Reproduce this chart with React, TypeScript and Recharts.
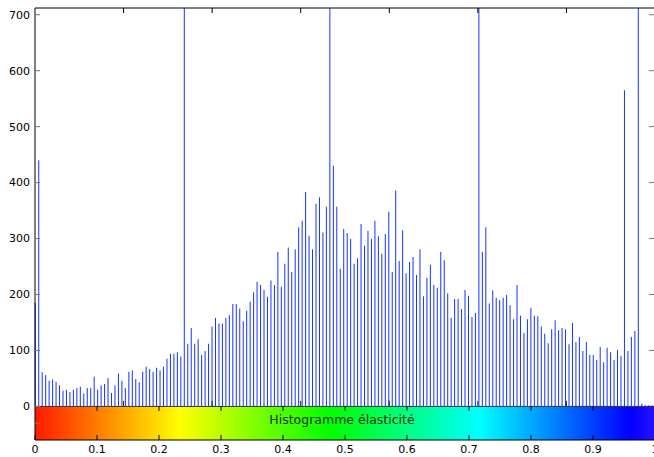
import React from 'react';
import { ComposedChart, Bar, XAxis, YAxis, ReferenceArea, ReferenceLine } from 'recharts';

// histogram counts, one per bin, read left to right (spikes are clipped at the top)
const counts = [
  185, 440, 61, 56, 46, 48, 44, 38, 28, 30,
  26, 30, 33, 35, 23, 33, 33, 53, 30, 38,
  40, 51, 24, 38, 59, 46, 33, 62, 64, 49,
  43, 62, 71, 67, 62, 69, 64, 71, 85, 94,
  94, 97, 89, 800, 112, 140, 112, 120, 92, 99,
  112, 143, 158, 148, 148, 158, 163, 183, 183, 175,
  152, 171, 187, 204, 223, 217, 208, 196, 225, 217,
  276, 214, 255, 284, 240, 281, 320, 332, 383, 305,
  281, 362, 374, 311, 357, 800, 430, 357, 246, 317,
  310, 299, 255, 265, 326, 287, 314, 299, 332, 304,
  273, 308, 348, 240, 386, 260, 315, 238, 258, 267,
  235, 281, 197, 230, 253, 217, 212, 276, 261, 202,
  158, 192, 192, 174, 208, 198, 160, 167, 800, 276,
  320, 184, 207, 194, 190, 194, 199, 181, 156, 217,
  162, 131, 156, 176, 162, 161, 143, 130, 113, 138,
  154, 136, 140, 138, 111, 149, 115, 124, 99, 115,
  92, 92, 83, 106, 79, 105, 97, 83, 101, 90,
  565, 99, 124, 135, 800, 5, 2, 2, 2,
];
const binStart = 0.0008;
const binStep = 0.00559;

const xTicks = [0, 0.1, 0.2, 0.3, 0.4, 0.5, 0.6, 0.7, 0.8, 0.9, 1];
const innerTicks = [0.1, 0.2, 0.3, 0.4, 0.5, 0.6, 0.7, 0.8, 0.9];
const topTicks = [1 / 7, 2 / 7, 3 / 7, 4 / 7, 5 / 7, 6 / 7];
const yTicks = [-30, 0, 100, 200, 300, 400, 500, 600, 700];
const rightTicks = [100, 200, 300, 400, 500, 600, 700];
const barTitle = 'Histogramme élasticité';

const data = counts.map((count, i) => ({ x: binStart + i * binStep, count }));

const tickFont = { fontSize: 11, fill: '#000', fontFamily: 'DejaVu Sans' };

export default function App() {
  return (
    <div style={{ position: 'fixed', left: 0, top: 0, width: 654, height: 457, overflow: 'hidden', background: '#fff' }}>
      <ComposedChart width={700} height={457} data={data} margin={{ top: 0, right: 0, bottom: 0, left: 0 }}>
        <defs>
          <linearGradient id="cbar" x1="0" y1="0" x2="1" y2="0">
            <stop offset="0%" stopColor="#ff1a00" />
            <stop offset="23.4%" stopColor="#ffff00" />
            <stop offset="47.6%" stopColor="#00ff00" />
            <stop offset="71.8%" stopColor="#00ffff" />
            <stop offset="96%" stopColor="#0000ff" />
            <stop offset="100%" stopColor="#2a10ff" />
          </linearGradient>
        </defs>
        <XAxis
          xAxisId="bottom"
          dataKey="x"
          type="number"
          domain={[0, 1]}
          ticks={xTicks}
          interval={0}
          height={17}
          tickSize={-5}
          tickMargin={10}
          tick={tickFont}
          axisLine={{ stroke: '#000' }}
          tickLine={{ stroke: '#000' }}
        />
        <XAxis
          xAxisId="top"
          orientation="top"
          type="number"
          domain={[0, 1]}
          height={8}
          tick={false}
          tickLine={false}
          axisLine={{ stroke: '#000' }}
        />
        <YAxis
          yAxisId="left"
          type="number"
          domain={[-60, 712]}
          allowDataOverflow
          ticks={yTicks}
          interval={0}
          width={35}
          tickSize={-5}
          tickMargin={10}
          tick={tickFont}
          tickFormatter={(v: number) => (v < 0 ? '' : String(v))}
          axisLine={{ stroke: '#000' }}
          tickLine={{ stroke: '#777' }}
        />
        <YAxis
          yAxisId="right"
          orientation="right"
          type="number"
          domain={[-60, 712]}
          allowDataOverflow
          ticks={rightTicks}
          interval={0}
          width={45}
          tickSize={-6}
          tickFormatter={() => ''}
          axisLine={false}
          tickLine={{ stroke: '#777' }}
        />
        <ReferenceArea
          xAxisId="bottom"
          yAxisId="left"
          x1={0}
          x2={1}
          y1={-60}
          y2={0}
          fill="url(#cbar)"
          fillOpacity={1}
          stroke="none"
          label={{
            content: (props: any) => {
              const vb = props.viewBox || {};
              return (
                <text x={345 - 3} y={(vb.y ?? 406) + 18} textAnchor="middle" fontSize={12.5} fontFamily="DejaVu Sans" fill="#123412">
                  {barTitle}
                </text>
              );
            },
          }}
        />
        <Bar xAxisId="bottom" yAxisId="left" dataKey="count" barSize={1} fill="#1434ff" isAnimationActive={false} />
        <ReferenceLine xAxisId="bottom" yAxisId="left" y={0} stroke="#333" />
        {innerTicks.map((t) => (
          <ReferenceLine
            key={'c' + t}
            xAxisId="bottom"
            yAxisId="left"
            segment={[{ x: t, y: 0 }, { x: t, y: -8 }]}
            stroke="#000"
          />
        ))}
        {topTicks.map((t) => (
          <ReferenceLine
            key={'s' + t}
            xAxisId="bottom"
            yAxisId="left"
            segment={[{ x: t, y: 0 }, { x: t, y: 10 }]}
            stroke="#222"
          />
        ))}
        {topTicks.map((t) => (
          <ReferenceLine
            key={'t' + t}
            xAxisId="bottom"
            yAxisId="left"
            segment={[{ x: t, y: 712 }, { x: t, y: 703 }]}
            stroke="#000"
          />
        ))}
      </ComposedChart>
    </div>
  );
}
